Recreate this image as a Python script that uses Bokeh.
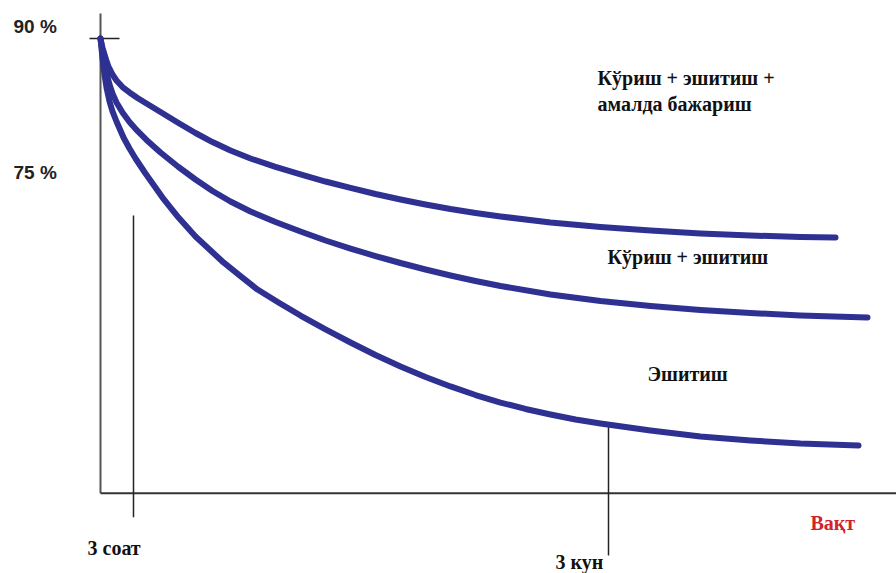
from bokeh.plotting import figure
from bokeh.models import Range1d
from bokeh.core.properties import value
from bokeh.embed import file_html
from bokeh.resources import INLINE

# ---- data (time in arbitrary units, retention in %) ----
# Кўриш + эшитиш + амалда бажариш
time_top = [0, 0.1, 0.2, 0.4, 0.6, 0.8, 1.2, 1.6, 2.2, 2.9, 3.7, 4.6, 6.0, 7.8, 9.5, 11.2, 13, 15, 17.5,
            20, 22.5, 25, 27.5, 30, 32.5, 35, 37.5, 40, 45, 50, 55, 60, 65, 70, 73.5]
pct_top = [90, 89.44, 88.94, 88.21, 87.48, 86.87, 85.97, 85.30, 84.57, 83.96, 83.34, 82.72, 81.77, 80.54,
           79.42, 78.41, 77.46, 76.57, 75.62, 74.78, 73.99, 73.27, 72.59, 71.98, 71.42, 70.91, 70.47,
           70.08, 69.40, 68.90, 68.51, 68.17, 67.95, 67.78, 67.72]

# Кўриш + эшитиш
time_mid = [0, 0.1, 0.2, 0.4, 0.6, 0.9, 1.2, 1.6, 2.2, 2.9, 3.7, 4.6, 6.0, 7.8, 9.5, 11.2, 13, 15, 17.5,
            20, 22.5, 25, 27.5, 30, 32.5, 35, 37.5, 40, 45, 50, 55, 60, 65, 70, 76.7]
pct_mid = [90, 89.22, 88.49, 87.20, 86.14, 84.85, 83.84, 82.84, 81.72, 80.65, 79.65, 78.64, 77.24, 75.62,
           74.22, 72.93, 71.75, 70.63, 69.46, 68.40, 67.39, 66.49, 65.65, 64.87, 64.14, 63.47, 62.85,
           62.29, 61.34, 60.62, 60.06, 59.61, 59.27, 58.99, 58.77]

# Эшитиш
time_low = [0, 0.1, 0.2, 0.4, 0.6, 0.9, 1.2, 1.6, 2.3, 2.9, 3.5, 4.5, 6.2, 7.8, 9.5, 12.3, 14, 15.7, 17.8,
            20, 22.5, 25, 27.5, 30, 32.5, 35, 37.5, 40, 42.5, 45, 47.5, 50, 55, 60, 65, 70, 75.8]
pct_low = [90, 88.88, 87.76, 85.97, 84.51, 82.95, 81.83, 80.71, 78.92, 77.69, 76.57, 74.89, 72.20, 69.96,
           67.84, 64.93, 63.41, 61.90, 60.45, 58.99, 57.43, 55.97, 54.57, 53.28, 52.11, 51.05, 50.09,
           49.25, 48.53, 47.91, 47.35, 46.90, 46.12, 45.45, 45.0, 44.66, 44.44]

# axis extent
axis_top = 92.8
axis_base = 39.1
time_end = 79.6

# y-axis labels
y_label_values = [91.3, 75.0]
y_label_texts = ["90 %", "75 %"]

# markers on the time axis: 3 hours and 3 days
marker_times = [3.3, 50.8]
marker_tops = [70.2, 47.0]
marker_bottoms = [36.4, 32.13]
marker_texts = ["3 соат", "3 кун"]
marker_label_x = [-1.3, 45.5]
marker_label_y = [33.0, 31.45]

# curve labels
curve_label_x = [49.7, 49.7, 50.7, 54.7]
curve_label_y = [85.6, 82.7, 65.5, 52.5]
curve_label_texts = ["Кўриш + эшитиш +", "амалда бажариш", "Кўриш + эшитиш", "Эшитиш"]

axis_title = "Вақт"
axis_title_x = 71.0
axis_title_y = 35.8

CURVE = "#2E3192"

p = figure(width=896, height=573,
           x_range=Range1d(-10.0, 79.6), y_range=Range1d(30.112, 94.254),
           output_backend="svg", toolbar_location=None,
           x_axis_location=None, y_axis_location=None, min_border=0)
p.grid.visible = False
p.outline_line_color = None
p.background_fill_color = "white"
p.border_fill_color = "white"

# axes drawn as lines in data space
p.line(x=[0, 0], y=[axis_top, axis_base], line_color="#555555", line_width=2)
p.line(x=[0, time_end], y=[axis_base, axis_base], line_color="#333333", line_width=2)
p.line(x=[-1.1, 1.9], y=[90, 90], line_color="#222222", line_width=1.5)

# markers
p.segment(x0=marker_times, y0=marker_tops, x1=marker_times, y1=marker_bottoms,
          line_color="#222222", line_width=1.5)

# curves
for t, v in [(time_top, pct_top), (time_mid, pct_mid), (time_low, pct_low)]:
    p.line(x=t, y=v, line_color=CURVE, line_width=6, line_cap="round", line_join="round")

# labels
p.text(x=[-8.7] * len(y_label_values), y=y_label_values, text=y_label_texts,
       text_font=value("Liberation Sans"), text_font_style="bold", text_font_size="19px",
       text_color="#222222", text_baseline="middle", text_align="left")

p.text(x=curve_label_x, y=curve_label_y, text=curve_label_texts,
       text_font=value("Liberation Serif"), text_font_style="bold", text_font_size="20px",
       text_color="#111111", text_baseline="middle", text_align="left")

p.text(x=marker_label_x, y=marker_label_y, text=marker_texts,
       text_font=value("Liberation Serif"), text_font_style="bold", text_font_size="20px",
       text_color="#111111", text_baseline="middle", text_align="left")

p.text(x=[axis_title_x], y=[axis_title_y], text=[axis_title],
       text_font=value("Liberation Serif"), text_font_style="bold", text_font_size="20px",
       text_color="#D2232A", text_baseline="middle", text_align="left")

open("out.html", "w").write(file_html(p, INLINE))
